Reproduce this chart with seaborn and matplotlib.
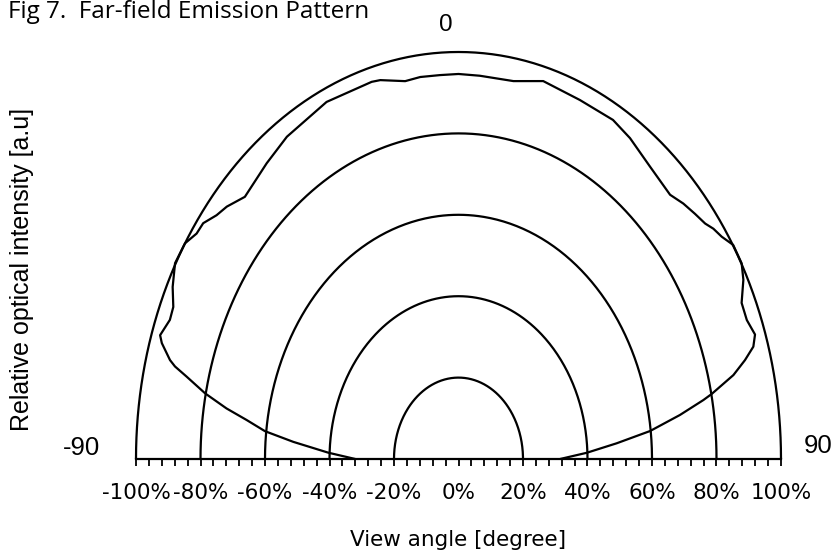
import numpy as np
import pandas as pd
import matplotlib
matplotlib.use("Agg")
import matplotlib.pyplot as plt
import seaborn as sns

# Reference rings (relative intensity levels)
ring_levels = [0.2, 0.4, 0.6, 0.8, 1.0]

# Measured far-field pattern: view angle (degree) and relative intensity
pattern_angle = [
    -90.0, -87.8, -85.3, -83.5, -81.7, -80.2, -78.4, -76.5, -75.5, -74.8,
    -72.8, -71.8, -69.1, -67.1, -64.5, -61.3, -58.0, -55.7, -53.8, -51.4,
    -49.2, -45.8, -39.3, -33.9, -25.0, -16.2, -14.6, -10.1, -7.2, -3.5,
    0.0, 4.0, 10.4, 15.8, 23.1, 29.9, 34.0, 39.6, 45.3, 48.0,
    50.6, 52.9, 54.4, 56.2, 58.3, 61.3, 63.5, 66.4, 69.1, 71.6,
    73.2, 74.7, 76.4, 78.5, 79.2, 81.05, 83.4, 85.5, 87.8, 90.0,
]
pattern_intensity = [
    0.320, 0.404, 0.514, 0.604, 0.664, 0.730, 0.802, 0.867, 0.908, 0.927,
    0.963, 0.974, 0.958, 0.960, 0.982, 1.002, 1.000, 0.983, 0.981, 0.960,
    0.949, 0.924, 0.939, 0.954, 0.968, 0.965, 0.962, 0.943, 0.946, 0.945,
    0.946, 0.944, 0.944, 0.965, 0.959, 0.961, 0.951, 0.932, 0.923, 0.938,
    0.949, 0.959, 0.972, 0.982, 1.001, 1.001, 0.987, 0.958, 0.957, 0.969,
    0.955, 0.921, 0.877, 0.801, 0.773, 0.695, 0.598, 0.492, 0.398, 0.315,
]

# Axis ticks
major_ticks = [-1.0, -0.8, -0.6, -0.4, -0.2, 0.0, 0.2, 0.4, 0.6, 0.8, 1.0]
major_labels = ["-100%", "-80%", "-60%", "-40%", "-20%", "0%",
                "20%", "40%", "60%", "80%", "100%"]
minor_ticks = np.round(np.arange(-1.0, 1.0001, 0.04), 2)

sns.set_theme(style="white")
plt.rcParams["font.family"] = ["DejaVu Sans"]

fig = plt.figure(figsize=(8.36, 5.58), dpi=100)
ax = fig.add_axes([0.16268, 0.17742, 0.77153, 0.72939])

line_kw = dict(color="black", linewidth=1.6, sort=False, estimator=None)

# Concentric half-ellipse rings
arc = np.radians(np.linspace(-90, 90, 361))
for level in ring_levels:
    ring = pd.DataFrame({"x": level * np.sin(arc), "y": level * np.cos(arc)})
    sns.lineplot(data=ring, x="x", y="y", ax=ax, **line_kw)

# Emission pattern in polar form
theta = np.radians(pattern_angle)
rho = np.asarray(pattern_intensity)
pattern = pd.DataFrame({"x": rho * np.sin(theta), "y": rho * np.cos(theta)})
sns.lineplot(data=pattern, x="x", y="y", ax=ax, **line_kw)

for ln in ax.lines:
    ln.set_clip_on(False)
    ln.set_solid_capstyle("butt")
    ln.set_solid_joinstyle("round")

ax.set_xlim(-1.0, 1.0)
ax.set_ylim(0.0, 1.0)

for side in ["top", "right", "left"]:
    ax.spines[side].set_visible(False)
ax.spines["bottom"].set_color("black")
ax.spines["bottom"].set_linewidth(1.6)

ax.set_xticks(major_ticks)
ax.set_xticklabels(major_labels)
ax.set_xticks(minor_ticks, minor=True)
ax.set_yticks([])
ax.tick_params(axis="x", which="both", direction="out", length=5, width=1.3,
               color="black", bottom=True)
ax.tick_params(axis="x", which="major", labelsize=15.5, pad=12, labelcolor="black")

ax.set_xlabel("View angle [degree]", fontsize=15.5, color="black", va="center")
ax.xaxis.set_label_coords(0.5, -0.199)
ax.set_ylabel("Relative optical intensity [a.u]", fontsize=18, color="black",
              family="Liberation Sans", va="center")
ax.yaxis.set_label_coords(-0.176, 0.465)

# Angle markers
ax.text(-0.039, 1.066, "0", ha="center", va="center", fontsize=17.5,
        family="Liberation Sans", color="black")
ax.text(-1.17, 0.027, "-90", ha="center", va="center", fontsize=18.5,
        family="Liberation Sans", color="black")
ax.text(1.114, 0.032, "90", ha="center", va="center", fontsize=18.5,
        family="Liberation Sans", color="black")

fig.text(8 / 836, 1 - 18 / 558, "Fig 7.  Far-field Emission Pattern",
         ha="left", va="baseline", fontsize=17.5, family="Open Sans", color="black")

fig.savefig("out.png", dpi=100, facecolor="white")
